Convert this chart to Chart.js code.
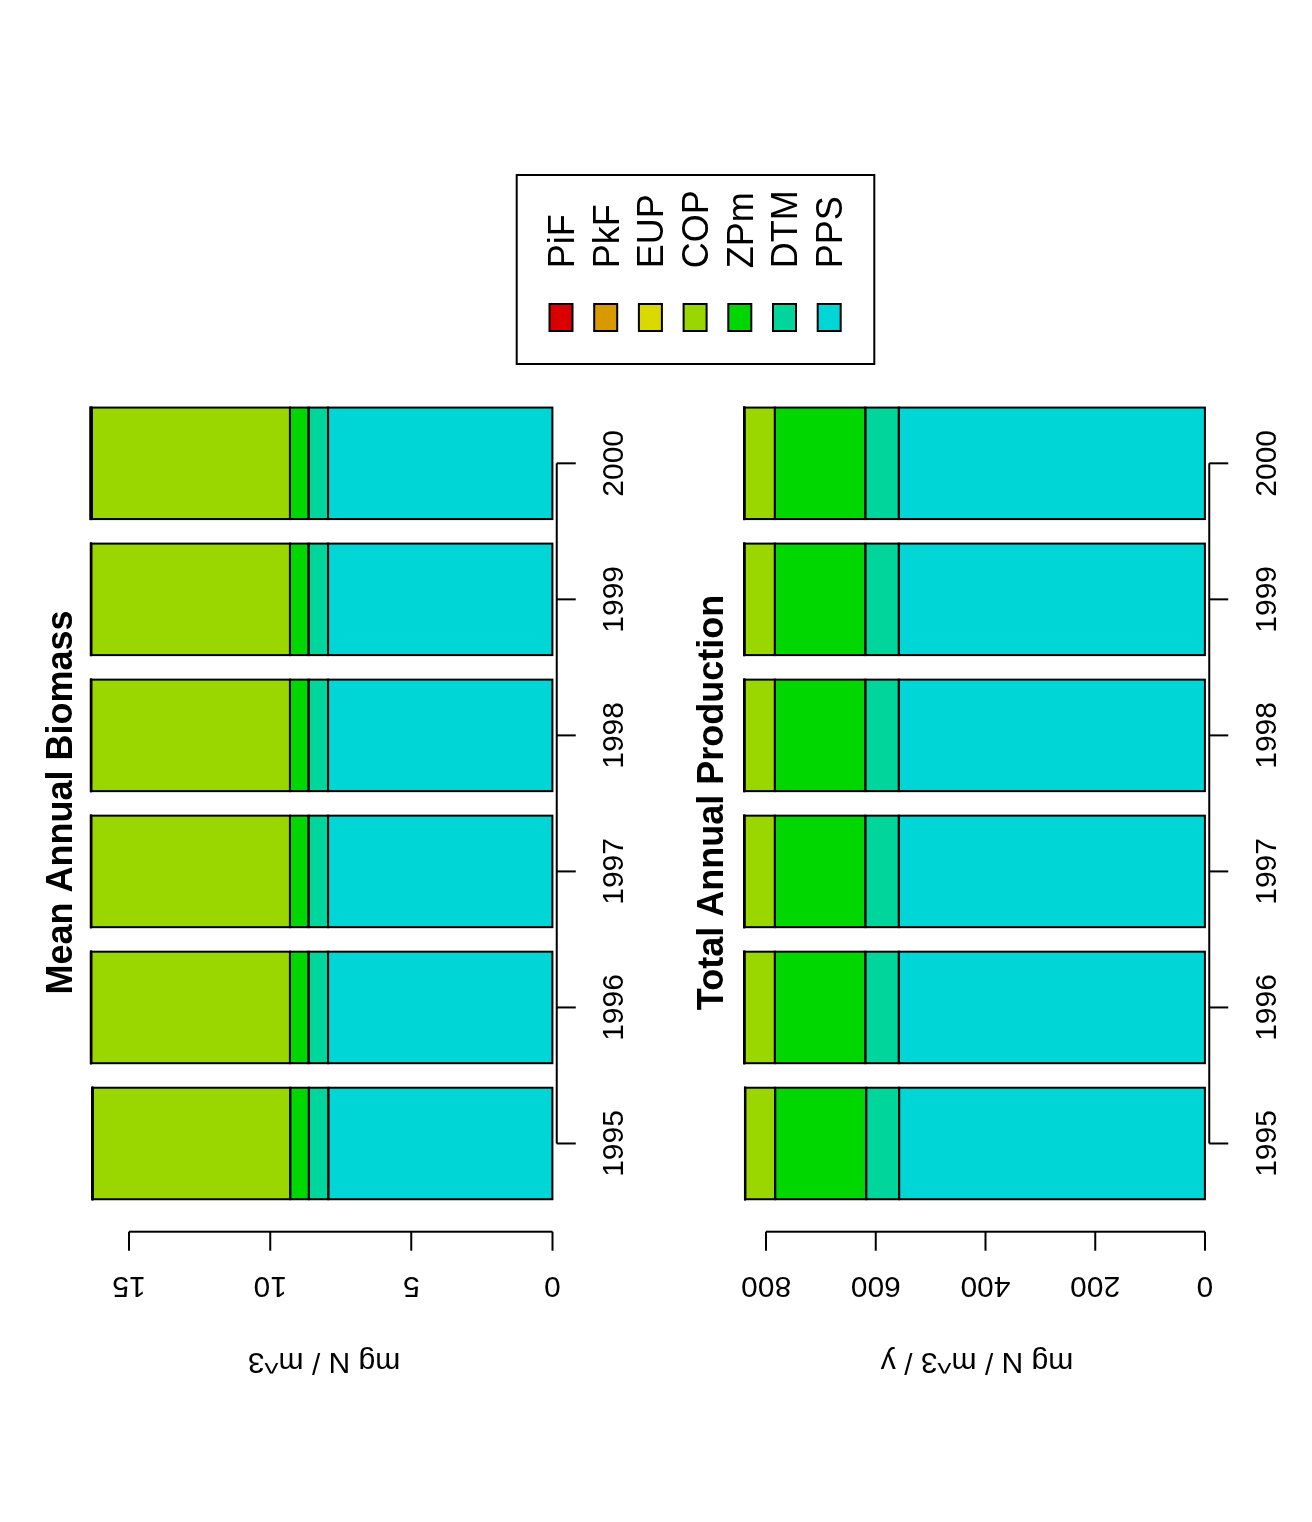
<!DOCTYPE html>
<html>
<head>
<meta charset="utf-8">
<script src="https://cdn.jsdelivr.net/npm/chart.js@4.4.1/dist/chart.umd.min.js"></script>
<style>
  html, body { margin: 0; padding: 0; width: 1312px; height: 1522px; overflow: hidden; background: #fff; }
  /* the figure is laid out landscape and turned a quarter turn counter-clockwise */
  #page { position: absolute; left: 0; top: 0; width: 1522px; height: 1312px;
          transform-origin: 0 0; transform: translate(0, 1522px) rotate(-90deg); background: #fff; }
  #page canvas { position: absolute; left: 0; top: 0; }
</style>
</head>
<body>
<div id="page">
  <canvas id="biomass" width="1522" height="1312"></canvas>
  <canvas id="production" width="1522" height="1312"></canvas>
</div>
<script>
// ---- data ----
const years = ['1995', '1996', '1997', '1998', '1999', '2000'];
// stacking order, from the baseline upward
const groups = ['PPS', 'DTM', 'ZPm', 'COP', 'EUP', 'PkF', 'PiF'];
const groupColors = ['#00D6D6', '#00D69C', '#00D600', '#9AD600', '#D9D900', '#D99A00', '#D90000'];

// mean annual biomass, mg N / m^3
const biomassPPS = [7.94, 7.95, 7.95, 7.95, 7.95, 7.95];
const biomassDTM = [0.69, 0.69, 0.69, 0.69, 0.69, 0.69];
const biomassZPm = [0.66, 0.66, 0.66, 0.66, 0.66, 0.66];
const biomassCOP = [7.00, 7.04, 7.04, 7.04, 7.04, 7.02];
const biomassEUP = [0.01, 0.01, 0.01, 0.01, 0.01, 0.04];
const biomassPkF = [0.004, 0.004, 0.004, 0.004, 0.004, 0.004];
const biomassPiF = [0.002, 0.002, 0.002, 0.002, 0.002, 0.002];
const biomassTicks = [0, 5, 10, 15];

// total annual production, mg N / m^3 / y
const productionPPS = [557.5, 558, 558, 558, 558, 558];
const productionDTM = [60, 61, 61, 61, 61, 61];
const productionZPm = [166, 165, 165, 165, 165, 165];
const productionCOP = [54.5, 55.5, 55.5, 55.5, 55.5, 55.5];
const productionEUP = [0.4, 0.4, 0.4, 0.4, 0.4, 0.4];
const productionPkF = [0.1, 0.1, 0.1, 0.1, 0.1, 0.1];
const productionPiF = [0.05, 0.05, 0.05, 0.05, 0.05, 0.05];
const productionTicks = [0, 200, 400, 600, 800];

// ---- layout ----
const W = 1522, H = 1312;
const FONT = "'Liberation Sans', Arial, Helvetica, sans-serif";
const plotLeft = 310.5, plotRight = 1126.7;
const yAxisX = 290.3, tickLen = 19;
const tickLabelX = 245.3, axisTitleX = 169, titleCenterX = 719.5;

const panels = [
  { id: 'biomass', title: 'Mean Annual Biomass', unit: 'mg N / m^3',
    series: [biomassPPS, biomassDTM, biomassZPm, biomassCOP, biomassEUP, biomassPkF, biomassPiF],
    ticks: biomassTicks, min: -0.1524, max: 17, top: 72.66, bottom: 556.7,
    titleY: 71.5, unitY: 324, yearY: 623 },
  { id: 'production', title: 'Total Annual Production', unit: 'mg N / m^3 / y',
    series: [productionPPS, productionDTM, productionZPm, productionCOP, productionEUP, productionPkF, productionPiF],
    ticks: productionTicks, min: -8.02, max: 900, top: 711.25, bottom: 1209.3,
    titleY: 723, unitY: 977, yearY: 1275.6, legend: true }
];

const legendBox = { left: 1158, right: 1347, top: 516.7, bottom: 874.3,
                    swatchLeft: 1191, swatchW: 27, swatchH: 23,
                    firstY: 561, stepY: 44.7, textX: 1253.7, fontSize: 36 };

// black outlines centred on every bar segment edge
const barOutline = {
  id: 'barOutline',
  afterDatasetsDraw(chart) {
    const ctx = chart.ctx;
    ctx.save();
    ctx.strokeStyle = '#000';
    ctx.lineWidth = 2;
    chart.data.datasets.forEach((d, i) => {
      chart.getDatasetMeta(i).data.forEach(el => {
        const p = el.getProps(['x', 'y', 'base', 'width'], true);
        const top = Math.min(p.y, p.base), h = Math.abs(p.base - p.y);
        ctx.strokeRect(p.x - p.width / 2, top, p.width, h);
      });
    });
    ctx.restore();
  }
};

// R-style axes, titles and legend, placed through the chart's scales
const rDecor = {
  id: 'rDecor',
  afterDraw(chart, args, opts) {
    const ctx = chart.ctx;
    const xs = chart.scales.x, ys = chart.scales.y;
    ctx.save();
    ctx.strokeStyle = '#000';
    ctx.fillStyle = '#000';
    ctx.lineWidth = 2;
    ctx.lineCap = 'butt';

    // value axis
    const tv = ys.ticks.map(t => t.value);
    ctx.beginPath();
    ctx.moveTo(yAxisX, ys.getPixelForValue(tv[0]));
    ctx.lineTo(yAxisX, ys.getPixelForValue(tv[tv.length - 1]));
    tv.forEach(v => {
      const p = ys.getPixelForValue(v);
      ctx.moveTo(yAxisX, p);
      ctx.lineTo(yAxisX - tickLen, p);
    });
    ctx.stroke();
    ctx.font = '30px ' + FONT;
    ctx.textAlign = 'center';
    ctx.textBaseline = 'alphabetic';
    tv.forEach(v => {
      ctx.save();
      ctx.translate(tickLabelX, ys.getPixelForValue(v));
      ctx.rotate(-Math.PI / 2);
      ctx.fillText(String(v), 0, 0);
      ctx.restore();
    });

    // category axis
    const axisY = chart.chartArea.bottom;
    const cats = chart.data.labels;
    ctx.beginPath();
    ctx.moveTo(xs.getPixelForValue(0), axisY);
    ctx.lineTo(xs.getPixelForValue(cats.length - 1), axisY);
    cats.forEach((c, i) => {
      const p = xs.getPixelForValue(i);
      ctx.moveTo(p, axisY);
      ctx.lineTo(p, axisY + tickLen);
    });
    ctx.stroke();
    cats.forEach((c, i) => ctx.fillText(c, xs.getPixelForValue(i), opts.yearY));

    // axis title
    ctx.save();
    ctx.translate(axisTitleX, opts.unitY);
    ctx.rotate(-Math.PI / 2);
    ctx.fillText(opts.unit, 0, 0);
    ctx.restore();

    // main title
    ctx.font = 'bold 36px ' + FONT;
    ctx.fillText(opts.title, titleCenterX, opts.titleY);

    // legend, top of the stack listed first
    if (opts.legend) {
      const L = legendBox;
      ctx.lineWidth = 2;
      ctx.strokeRect(L.left, L.top, L.right - L.left, L.bottom - L.top);
      ctx.font = L.fontSize + 'px ' + FONT;
      ctx.textAlign = 'left';
      const ds = chart.data.datasets.slice().reverse();
      ds.forEach((d, i) => {
        const cy = L.firstY + i * L.stepY;
        ctx.fillStyle = d.backgroundColor;
        ctx.fillRect(L.swatchLeft, cy - L.swatchH / 2, L.swatchW, L.swatchH);
        ctx.strokeRect(L.swatchLeft, cy - L.swatchH / 2, L.swatchW, L.swatchH);
        ctx.fillStyle = '#000';
        ctx.fillText(d.label, L.textX, cy + 0.358 * L.fontSize);
      });
    }
    ctx.restore();
  }
};

panels.forEach(pn => {
  const datasets = groups.map((g, k) => ({
    label: g,
    data: pn.series[k],
    backgroundColor: groupColors[k],
    borderWidth: 0,
    barPercentage: 111.5 / 136.03,
    categoryPercentage: 1
  }));
  new Chart(document.getElementById(pn.id), {
    type: 'bar',
    data: { labels: years, datasets },
    options: {
      responsive: false,
      animation: false,
      devicePixelRatio: 1,
      events: [],
      layout: { padding: { left: plotLeft, right: W - plotRight, top: pn.top, bottom: H - pn.bottom } },
      scales: {
        x: { stacked: true, display: false },
        y: { stacked: true, display: false, min: pn.min, max: pn.max,
             afterBuildTicks: s => { s.ticks = pn.ticks.map(v => ({ value: v })); } }
      },
      plugins: {
        legend: { display: false },
        tooltip: { enabled: false },
        title: { display: false },
        rDecor: { title: pn.title, unit: pn.unit, unitY: pn.unitY, titleY: pn.titleY,
                  yearY: pn.yearY, legend: !!pn.legend }
      }
    },
    plugins: [barOutline, rDecor]
  });
});
</script>
</body>
</html>
